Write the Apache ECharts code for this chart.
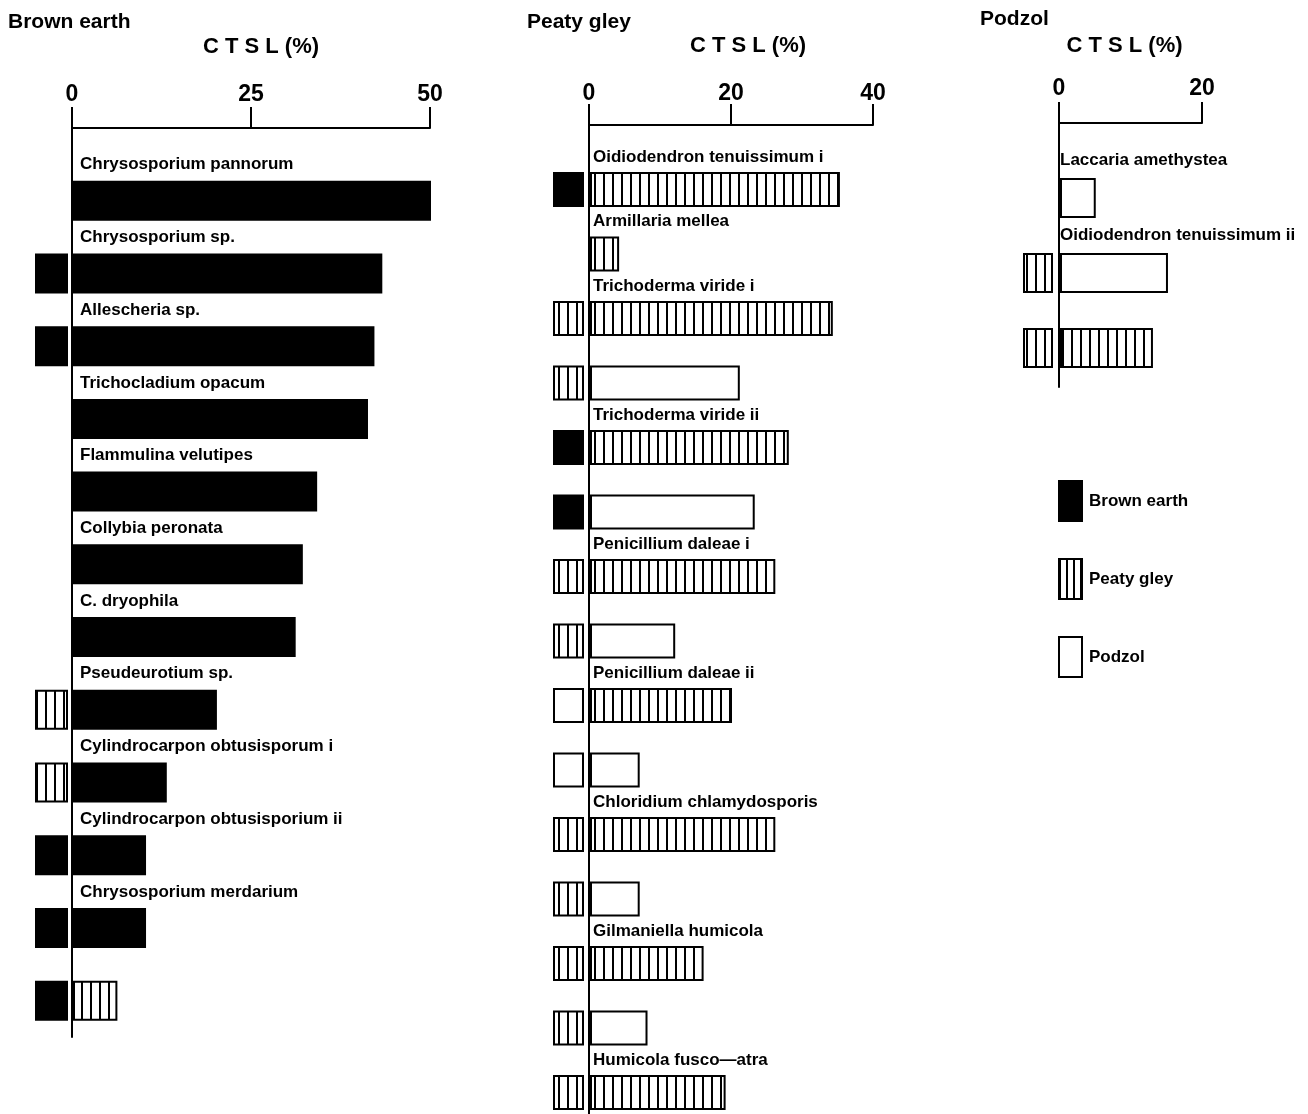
<!DOCTYPE html>
<html><head><meta charset="utf-8">
<script src="https://cdn.jsdelivr.net/npm/echarts@6/dist/echarts.min.js"></script>
<style>html,body{margin:0;padding:0;background:#fff}#c{width:1308px;height:1114px}</style>
</head><body><div id="c"></div>
<script>
// ---------- DATA ----------
const soils = ['Brown earth', 'Peaty gley', 'Podzol'];   // 0,1,2 ; -1 = no origin marker

// Panel: Brown earth
const brownLabels = ['Chrysosporium pannorum', 'Chrysosporium sp.', 'Allescheria sp.', 'Trichocladium opacum',
  'Flammulina velutipes', 'Collybia peronata', 'C. dryophila', 'Pseudeurotium sp.',
  'Cylindrocarpon obtusisporum i', 'Cylindrocarpon obtusisporium ii', 'Chrysosporium merdarium', ''];
const brownValues = [50.0, 43.2, 42.1, 41.2, 34.1, 32.1, 31.1, 20.1, 13.1, 10.2, 10.2, 6.2];
const brownBarSoil = [0, 0, 0, 0, 0, 0, 0, 0, 0, 0, 0, 1];
const brownOrigin = [-1, 0, 0, -1, -1, -1, -1, 1, 1, 0, 0, 0];
const brownTicks = [0, 25, 50];

// Panel: Peaty gley
const peatyLabels = ['Oidiodendron tenuissimum i', 'Armillaria mellea', 'Trichoderma viride i', '',
  'Trichoderma viride ii', '', 'Penicillium daleae i', '', 'Penicillium daleae ii', '',
  'Chloridium chlamydosporis', '', 'Gilmaniella humicola', '', 'Humicola fusco\u2014atra'];
const peatyValues = [35.2, 4.1, 34.2, 21.1, 28.0, 23.2, 26.1, 12.0, 20.0, 7.0, 26.1, 7.0, 16.0, 8.1, 19.1];
const peatyBarSoil = [1, 1, 1, 2, 1, 2, 1, 2, 1, 2, 1, 2, 1, 2, 1];
const peatyOrigin = [0, -1, 1, 1, 0, 0, 1, 1, 2, 2, 1, 1, 1, 1, 1];
const peatyTicks = [0, 20, 40];

// Panel: Podzol
const podzolLabels = ['Laccaria amethystea', 'Oidiodendron tenuissimum ii', ''];
const podzolValues = [5.0, 15.1, 13.0];
const podzolBarSoil = [2, 2, 1];
const podzolOrigin = [-1, 1, 1];
const podzolTicks = [0, 20];

const axisName = 'C T S L (%)';

// ---------- STYLE / LAYOUT ----------
const FONT = '"Liberation Sans", Arial, sans-serif';
function hatch(step) {
  const c = document.createElement('canvas');
  c.width = step; c.height = 8;
  const g = c.getContext('2d');
  g.fillStyle = '#fff'; g.fillRect(0, 0, step, 8);
  g.fillStyle = '#000'; g.fillRect(0, 0, 2, 8);
  return c;
}
const HATCH = { image: hatch(9), repeat: 'repeat' };
const HATCH_LEG = { image: hatch(7), repeat: 'repeat' };
const FILLS = ['#000', HATCH, '#fff'];

const panels = [
  { labels: brownLabels, values: brownValues, barSoil: brownBarSoil, origin: brownOrigin, ticks: brownTicks,
    left: 72, width: 358, top: 128, height: 909, yMax: 11.5, barH: 38, mW: 31, mGap: 5, lx: 8, ly: 17,
    nameShift: 10, nameGap: 70, labMargin: 22 },
  { labels: peatyLabels, values: peatyValues, barSoil: peatyBarSoil, origin: peatyOrigin, ticks: peatyTicks,
    left: 589, width: 284, top: 125, height: 990, yMax: 14.35, barH: 33, mW: 29, mGap: 6, lx: 4, ly: 16,
    nameShift: 17, nameGap: 68, labMargin: 20 },
  { labels: podzolLabels, values: podzolValues, barSoil: podzolBarSoil, origin: podzolOrigin, ticks: podzolTicks,
    left: 1059, width: 143, top: 123, height: 264, yMax: 2.52, barH: 38, mW: 28, mGap: 7, lx: 1, ly: 19,
    nameShift: -6, nameGap: 66, labMargin: 23 }
];

const grids = [], xAxes = [], yAxes = [], series = [];
panels.forEach((p, pi) => {
  grids.push({ left: p.left, top: p.top, width: p.width, height: p.height, containLabel: false, outerBoundsMode: 'none' });
  const tmax = p.ticks[p.ticks.length - 1];
  const tint = p.ticks[1] - p.ticks[0];
  const pad = p.nameShift >= 0 ? [0, 0, 0, 2 * p.nameShift] : [0, -2 * p.nameShift, 0, 0];
  xAxes.push({
    type: 'value', gridIndex: pi, position: 'top', min: p.ticks[0], max: tmax, interval: tint,
    name: axisName, nameLocation: 'middle', nameGap: p.nameGap,
    nameTextStyle: { fontSize: 22, fontWeight: 'bold', color: '#000', fontFamily: FONT, padding: pad },
    axisLine: { show: true, onZero: false, lineStyle: { color: '#000', width: 2 } },
    axisTick: { show: true, inside: false, length: 21, lineStyle: { color: '#000', width: 2 } },
    axisLabel: { show: true, fontSize: 23, fontWeight: 'bold', color: '#000', fontFamily: FONT, margin: p.labMargin },
    splitLine: { show: false }
  });
  yAxes.push({
    type: 'value', gridIndex: pi, inverse: true, min: -1, max: p.yMax,
    axisLine: { show: true, onZero: false, lineStyle: { color: '#000', width: 2 } },
    axisTick: { show: false }, axisLabel: { show: false }, splitLine: { show: false }
  });
  [0, 1, 2].forEach(s => {
    const data = [];
    p.values.forEach((v, r) => { if (p.barSoil[r] === s) data.push([v, r, p.origin[r]]); });
    if (!data.length) return;
    series.push({
      type: 'custom', name: soils[s], xAxisIndex: pi, yAxisIndex: pi,
      encode: { x: 0, y: 1 },
      itemStyle: { color: s === 1 ? HATCH : FILLS[s], borderColor: '#000', borderWidth: 2 },
      data: data,
      renderItem: function (params, api) {
        const v = api.value(0), r = api.value(1), org = api.value(2);
        const p0 = api.coord([0, r]);
        const p1 = api.coord([v, r]);
        const h = p.barH;
        const top = p0[1] - h / 2;
        const ch = [{
          type: 'rect',
          shape: { x: p0[0] + 2, y: top, width: p1[0] - p0[0] - 2, height: h },
          style: { fill: FILLS[s], stroke: '#000', lineWidth: 2 }
        }];
        if (org >= 0) {
          ch.push({
            type: 'rect',
            shape: { x: p0[0] - p.mGap - p.mW, y: top, width: p.mW, height: h },
            style: { fill: FILLS[org], stroke: '#000', lineWidth: 2 }
          });
        }
        const lab = p.labels[r];
        if (lab) {
          ch.push({
            type: 'text', x: p0[0] + p.lx, y: top - p.ly,
            style: { text: lab, fill: '#000', fontSize: 17, fontWeight: 'bold', fontFamily: FONT,
                     align: 'left', verticalAlign: 'middle' }
          });
        }
        return { type: 'group', children: ch };
      }
    });
  });
});

const option = {
  backgroundColor: '#fff',
  animation: false,
  title: [
    { text: soils[0], left: 8, top: 12 },
    { text: soils[1], left: 527, top: 12 },
    { text: soils[2], left: 980, top: 9 }
  ].map(t => Object.assign(t, { padding: 0, textStyle: { fontSize: 21, fontWeight: 'bold', color: '#000', fontFamily: FONT } })),
  legend: {
    orient: 'vertical', left: 1058, top: 480, itemWidth: 23, itemHeight: 40, itemGap: 36,
    icon: 'rect', selectedMode: false, padding: 0,
    textStyle: { fontSize: 17, fontWeight: 'bold', color: '#000', fontFamily: FONT, padding: [0, 0, 0, 2] },
    data: [
      { name: soils[0], itemStyle: { color: '#000', borderColor: '#000', borderWidth: 2 } },
      { name: soils[1], itemStyle: { color: HATCH_LEG, borderColor: '#000', borderWidth: 2 } },
      { name: soils[2], itemStyle: { color: '#fff', borderColor: '#000', borderWidth: 2 } }
    ]
  },
  grid: grids, xAxis: xAxes, yAxis: yAxes, series: series
};
const chart = echarts.init(document.getElementById('c'), null, { renderer: 'canvas' });
chart.setOption(option);
</script></body></html>
